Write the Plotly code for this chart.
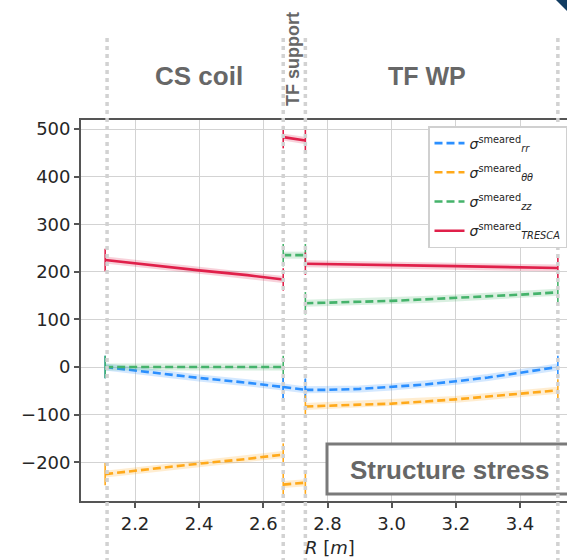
import plotly.graph_objects as go

# ---------------- data ----------------
R_CS = [2.107, 2.25, 2.4, 2.55, 2.662]
R_SUP = [2.662, 2.731]
R_WP = [2.731, 2.8, 2.9, 3.0, 3.1, 3.2, 3.3, 3.4, 3.518]

rr_CS = [0, -12, -23, -33, -42]
rr_SUP = [-42, -48]
rr_WP = [-48, -48, -46, -42, -37, -30, -22, -12, 0]

tt_CS = [-225, -214, -203, -193, -184]
tt_SUP = [-247, -243]
tt_WP = [-83, -81, -79, -77, -73, -68, -62, -56, -49]

zz_CS = [0, 0, 0, 0, 0]
zz_SUP = [235, 235]
zz_WP = [134, 135, 137, 139, 142, 145, 148, 152, 157]

tr_CS = [225, 214, 203, 193, 184]
tr_SUP = [483, 476]
tr_WP = [217, 216, 215, 214, 213, 212, 211, 210, 208]

boundaries = [2.113, 2.662, 2.731, 3.518]
x_ticks = [2.2, 2.4, 2.6, 2.8, 3.0, 3.2, 3.4]
y_ticks = [-200, -100, 0, 100, 200, 300, 400, 500]

series = [
    ("<i>σ</i><sup>smeared</sup><sub><i>rr</i></sub>", "#2b8fff", (rr_CS, rr_SUP, rr_WP), "8px,4px"),
    ("<i>σ</i><sup>smeared</sup><sub><i>θθ</i></sub>", "#ffa91a", (tt_CS, tt_SUP, tt_WP), "8px,4px"),
    ("<i>σ</i><sup>smeared</sup><sub><i>zz</i></sub>", "#45b36b", (zz_CS, zz_SUP, zz_WP), "8px,4px"),
    ("<i>σ</i><sup>smeared</sup><sub><i>TRESCA</i></sub>", "#e0204a", (tr_CS, tr_SUP, tr_WP), "solid"),
]

# pixel geometry helpers (plot area: x 81..567, y 120..501)
W, H = 567, 560
ML, MR, MT, MB = 81, 0, 120, 59
def px(xp):
    return (xp - ML) / (W - ML - MR)
def py(yp):
    return (H - MB - yp) / (H - MT - MB)

fig = go.Figure()

segs_R = (R_CS, R_SUP, R_WP)
for i, (name, color, segs, dash) in enumerate(series):
    xs, ys, cx, cy = [], [], [], []
    for r, v in zip(segs_R, segs):
        xs += list(r) + [None]
        ys += list(v) + [None]
        cx += [r[0], r[-1]]
        cy += [v[0], v[-1]]
    grp = f"g{i}"
    # translucent halo band
    fig.add_trace(go.Scatter(x=xs, y=ys, mode="lines", line=dict(color=color, width=7),
                             opacity=0.2, showlegend=False, hoverinfo="skip", legendgroup=grp))
    fig.add_trace(go.Scatter(x=xs, y=ys, mode="lines", name=name, legendgroup=grp,
                             line=dict(color=color, width=2.6, dash=dash)))
    fig.add_trace(go.Scatter(x=cx, y=cy, mode="markers", showlegend=False, legendgroup=grp,
                             marker=dict(symbol="line-ns", size=16,
                                         line=dict(color=color, width=1.6))))

shapes = []
# Structure stress box
shapes.append(dict(type="rect", xref="paper", yref="paper",
                   x0=px(327), x1=px(580), y0=py(494), y1=py(444),
                   line=dict(color="#7a7a7a", width=3), fillcolor="white", layer="above"))
# vertical dotted boundary lines
for b in boundaries:
    shapes.append(dict(type="line", xref="x", yref="paper", x0=b, x1=b,
                       y0=py(562), y1=py(34),
                       line=dict(color="#d2d2d2", width=3.5, dash="4px,4px"), layer="above"))
# corner decoration
shapes.append(dict(type="path", xref="paper", yref="paper",
                   path=f"M {px(556)} {py(0)} L {px(568)} {py(0)} L {px(568)} {py(12)} Z",
                   fillcolor="#123d63", line=dict(width=0)))

def ann(text, x, y, size, family="Liberation Sans", color="#676767", angle=0):
    return dict(text=text, x=px(x), y=py(y), xref="paper", yref="paper",
                xanchor="center", yanchor="middle", showarrow=False, textangle=angle,
                font=dict(family=family, size=size, color=color))

annotations = [
    ann("<b>CS coil</b>", 199, 76, 26),
    ann("<b>TF WP</b>", 427, 76, 25),
    ann("<b>TF support</b>", 293, 59, 18, angle=-90),
    ann("<b>Structure stress</b>", 449, 470, 26),
    ann("<i>R</i> [<i>m</i>]", 330, 547, 18, family="DejaVu Sans", color="#262626"),
]

fig.update_layout(
    width=W, height=H,
    margin=dict(l=ML, r=MR, t=MT, b=MB),
    plot_bgcolor="white", paper_bgcolor="white",
    shapes=shapes, annotations=annotations,
    font=dict(family="DejaVu Sans", size=18, color="#262626"),
    legend=dict(x=1.0, xanchor="right", y=py(126), yanchor="top",
                bgcolor="white", bordercolor="#d0d0d0", borderwidth=1.5,
                font=dict(family="DejaVu Sans", size=14, color="#262626"),
                tracegroupgap=8),
    showlegend=True,
)
fig.update_xaxes(range=[2.0317, 3.5465], tickvals=x_ticks, tickformat=".1f",
                 showgrid=True, gridcolor="#d3d3d3", gridwidth=1.3, zeroline=False,
                 showline=True, linecolor="#555555", linewidth=1.8, mirror=True,
                 ticks="outside", ticklen=5, tickcolor="#555555", tickwidth=1.5,
                 tickfont=dict(size=18, family="DejaVu Sans", color="#262626"))
fig.update_yaxes(range=[-281.5, 519], tickvals=y_ticks,
                 showgrid=True, gridcolor="#d3d3d3", gridwidth=1.3, zeroline=False,
                 showline=True, linecolor="#555555", linewidth=1.8,
                 ticks="outside", ticklen=5, tickcolor="#555555", tickwidth=1.5,
                 tickfont=dict(size=18, family="DejaVu Sans", color="#262626"))

fig.write_html("out.html")
